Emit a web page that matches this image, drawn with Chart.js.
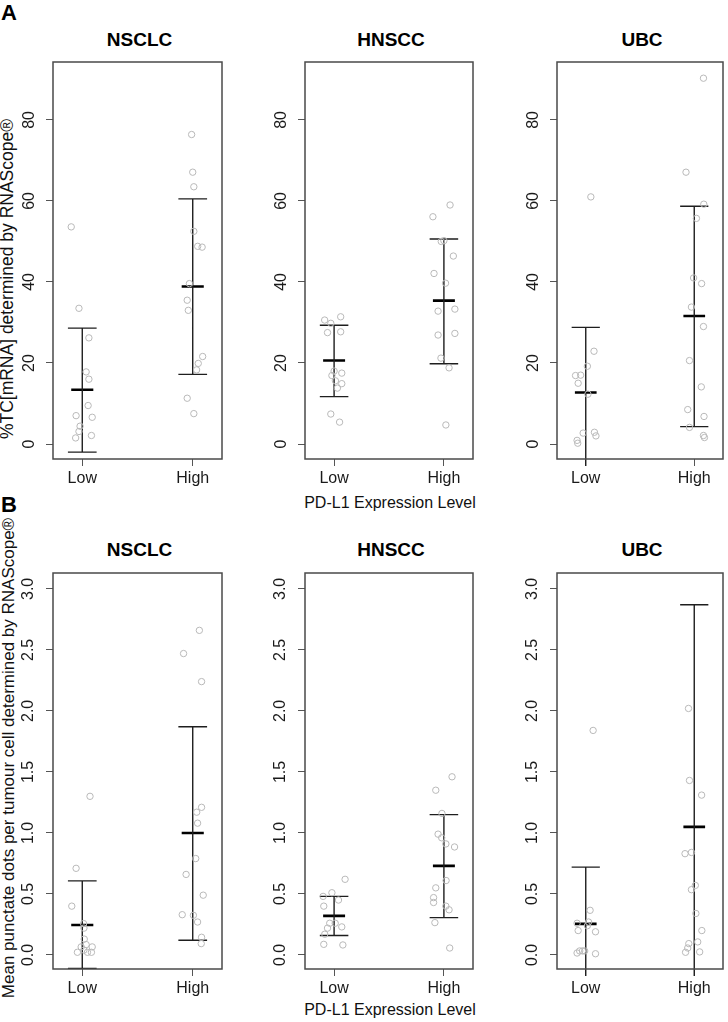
<!DOCTYPE html>
<html>
<head>
<meta charset="utf-8">
<script src="https://cdn.jsdelivr.net/npm/chart.js@4.4.1/dist/chart.umd.min.js"></script>
<style>
  body { margin: 0; background: #fff; width: 728px; height: 1022px; overflow: hidden; position: relative;
         font-family: "Liberation Sans", Arial, sans-serif; color: #111; }
  .panel { position: absolute; }
  .txt { position: absolute; white-space: nowrap; line-height: 1; transform: translate(-50%, -50%); }
  .rot { transform: translate(-50%, -50%) rotate(-90deg); }
  .title { font-weight: bold; font-size: 19px; color: #000; }
  .tag { position: absolute; font-weight: bold; font-size: 22px; color: #000; line-height: 1; }
</style>
</head>
<body>

<div class="tag" style="left:1px; top:2px;">A</div>
<div class="tag" style="left:1px; top:494px;">B</div>

<div class="txt rot" style="left:8px; top:279px; font-size:17.5px;">%TC[mRNA] determined by RNAScope®</div>
<div class="txt rot" style="left:8px; top:758px; font-size:17px;">Mean punctate dots per tumour cell determined by RNAScope®</div>
<div class="txt" style="left:390px; top:503px; font-size:16px;">PD-L1 Expression Level</div>
<div class="txt" style="left:390px; top:1010px; font-size:16px;">PD-L1 Expression Level</div>

<script>
// groups and axis ticks
const groups = ["Low", "High"];
const cancerTypes = ["NSCLC", "HNSCC", "UBC"];
const tcTicks = [0, 20, 40, 60, 80];
const tcTickLabels = ["0", "20", "40", "60", "80"];
const dotTicks = [0, 0.5, 1, 1.5, 2, 2.5, 3];
const dotTickLabels = ["0.0", "0.5", "1.0", "1.5", "2.0", "2.5", "3.0"];

// A: %TC[mRNA] (values + horizontal jitter)
const nsclcTcLow = [53.6, 33.5, 26.2, 17.8, 16.0, 9.5, 7.0, 6.6, 4.4, 3.1, 1.5, 2.1];
const nsclcTcLowJit = [-0.10, -0.03, 0.06, 0.035, 0.06, 0.053, -0.056, 0.09, -0.02, -0.03, -0.06, 0.083];
const nsclcTcHigh = [76.4, 67.1, 63.5, 52.5, 48.8, 48.6, 39.6, 35.5, 33.0, 21.6, 19.9, 18.3, 11.3, 7.5];
const nsclcTcHighJit = [-0.01, 0, 0.01, 0.01, 0.045, 0.085, -0.03, -0.05, -0.04, 0.09, 0.05, 0.035, -0.05, 0.01];
const nsclcTcMean = [13.4, 38.9];
const nsclcTcLower = [-2.0, 17.2];
const nsclcTcUpper = [28.6, 60.5];

const hnsccTcLow = [30.6, 29.8, 31.4, 27.5, 27.7, 18.0, 17.5, 16.9, 15.6, 14.9, 13.8, 7.4, 5.4];
const hnsccTcLowJit = [-0.086, -0.03, 0.06, -0.06, 0.06, 0, 0.07, -0.02, 0.012, 0.07, 0.03, -0.03, 0.05];
const hnsccTcHigh = [59.0, 56.1, 50.0, 50.2, 46.4, 42.1, 39.7, 32.8, 33.3, 26.9, 27.3, 21.2, 18.8, 4.7];
const hnsccTcHighJit = [0.056, -0.1, -0.024, 0, 0.086, -0.09, 0.015, -0.053, 0.1, -0.053, 0.1, -0.027, 0.047, 0.018];
const hnsccTcMean = [20.6, 35.4];
const hnsccTcLower = [11.7, 19.8];
const hnsccTcUpper = [29.3, 50.6];

const ubcTcLow = [61.0, 22.9, 19.2, 16.9, 17.0, 15.0, 12.3, 2.7, 2.9, 2.0, 0.9, 0.2];
const ubcTcLowJit = [0.047, 0.076, 0.015, -0.094, -0.047, -0.07, 0.02, -0.024, 0.08, 0.094, -0.08, -0.074];
const ubcTcHigh = [90.3, 67.1, 59.2, 55.7, 41.0, 39.6, 33.8, 29.0, 20.6, 14.1, 8.5, 4.1, 6.8, 2.1, 1.6];
const ubcTcHighJit = [0.085, -0.076, 0.088, 0.02, -0.006, 0.068, -0.026, 0.085, -0.044, 0.065, -0.06, -0.044, 0.09, 0.085, 0.094];
const ubcTcMean = [12.7, 31.6];
const ubcTcLower = [-6.0, 4.3];
const ubcTcUpper = [28.8, 58.7];

// B: mean punctate dots per tumour cell
const nsclcDotLow = [1.30, 0.71, 0.40, 0.257, 0.22, 0.13, 0.085, 0.066, 0.066, 0.022, 0.022, 0.022, 0.04];
const nsclcDotLowJit = [0.07, -0.056, -0.095, 0.012, 0.015, 0.018, 0.035, 0.09, -0.01, -0.044, 0.047, 0.083, 0.015];
const nsclcDotHigh = [2.66, 2.47, 2.24, 1.21, 1.17, 1.08, 0.79, 0.66, 0.49, 0.33, 0.325, 0.27, 0.145, 0.093];
const nsclcDotHighJit = [0.06, -0.083, 0.08, 0.08, 0.036, 0.044, 0.027, -0.06, 0.095, -0.095, 0.006, 0.044, 0.08, 0.077];
const nsclcDotMean = [0.246, 1.0];
const nsclcDotLower = [-0.11, 0.12];
const nsclcDotUpper = [0.607, 1.87];

const hnsccDotLow = [0.62, 0.51, 0.48, 0.45, 0.40, 0.26, 0.26, 0.23, 0.22, 0.17, 0.087, 0.082];
const hnsccDotLowJit = [0.1, -0.02, -0.1, 0.04, -0.094, -0.04, 0.01, 0.07, -0.06, -0.085, -0.094, 0.08];
const hnsccDotHigh = [1.46, 1.35, 1.16, 0.99, 0.96, 0.91, 0.885, 0.61, 0.55, 0.47, 0.43, 0.40, 0.37, 0.265, 0.057];
const hnsccDotHighJit = [0.074, -0.074, -0.018, -0.053, -0.02, 0.018, 0.097, 0.02, -0.074, -0.094, -0.094, 0.018, 0.047, -0.082, 0.053];
const hnsccDotMean = [0.32, 0.73];
const hnsccDotLower = [0.16, 0.306];
const hnsccDotUpper = [0.48, 1.15];

const ubcDotLow = [1.84, 0.366, 0.26, 0.27, 0.24, 0.20, 0.19, 0.033, 0.033, 0.033, 0.016, 0.01];
const ubcDotLowJit = [0.068, 0.04, -0.08, 0.026, 0.015, -0.07, 0.09, -0.056, -0.03, -0.01, -0.08, 0.09];
const ubcDotHigh = [2.02, 1.43, 1.31, 0.83, 0.84, 0.57, 0.535, 0.34, 0.20, 0.093, 0.107, 0.057, 0.022, 0.025];
const ubcDotHighJit = [-0.053, -0.044, 0.068, -0.085, -0.026, 0.01, -0.026, 0.015, 0.07, -0.05, 0.032, -0.06, -0.08, 0.05];
const ubcDotMean = [0.255, 1.05];
const ubcDotLower = [-0.3, -0.8];
const ubcDotUpper = [0.72, 2.87];

// layout (px)
const boxLefts = [53, 305, 557];
const boxRights = [226, 477, 727];
const AXIS_W = 53;
const X_AXIS_H = 35;
const PAD_TOP = 10;
const CAP_HALF = 0.13;
const MEAN_HALF = 0.1;
const FONT = "'Liberation Sans', Arial, sans-serif";

const rows = [
  {
    top: 62, bottom: 459, yMin: -3.7, yMax: 94.3, ticks: tcTicks, tickLabels: tcTickLabels, tickPad: 8, titleY: 38.5,
    sets: [
      [nsclcTcLow, nsclcTcLowJit, nsclcTcHigh, nsclcTcHighJit, nsclcTcMean, nsclcTcLower, nsclcTcUpper],
      [hnsccTcLow, hnsccTcLowJit, hnsccTcHigh, hnsccTcHighJit, hnsccTcMean, hnsccTcLower, hnsccTcUpper],
      [ubcTcLow, ubcTcLowJit, ubcTcHigh, ubcTcHighJit, ubcTcMean, ubcTcLower, ubcTcUpper],
    ],
  },
  {
    top: 573, bottom: 969, yMin: -0.115, yMax: 3.13, ticks: dotTicks, tickLabels: dotTickLabels, tickPad: 6, titleY: 548.5,
    sets: [
      [nsclcDotLow, nsclcDotLowJit, nsclcDotHigh, nsclcDotHighJit, nsclcDotMean, nsclcDotLower, nsclcDotUpper],
      [hnsccDotLow, hnsccDotLowJit, hnsccDotHigh, hnsccDotHighJit, hnsccDotMean, hnsccDotLower, hnsccDotUpper],
      [ubcDotLow, ubcDotLowJit, ubcDotHigh, ubcDotHighJit, ubcDotMean, ubcDotLower, ubcDotUpper],
    ],
  },
];

const boxPlugin = {
  id: "box",
  afterDatasetsDraw(chart) {
    const a = chart.chartArea;
    const ctx = chart.ctx;
    ctx.save();
    ctx.strokeStyle = "#4a4a4a";
    ctx.lineWidth = 1.5;
    ctx.strokeRect(a.left, a.top, a.right - a.left, a.bottom - a.top);
    ctx.restore();
  },
};

function stripPoints(low, lowJit, high, highJit) {
  const pts = low.map((v, i) => ({ x: 1 + lowJit[i], y: v }));
  return pts.concat(high.map((v, i) => ({ x: 2 + highJit[i], y: v })));
}

function errorBars(lower, upper) {
  const pts = [];
  groups.forEach((g, i) => {
    const x = i + 1;
    pts.push({ x: x - CAP_HALF, y: upper[i] }, { x: x + CAP_HALF, y: upper[i] }, { x: x, y: null });
    pts.push({ x: x, y: upper[i] }, { x: x, y: lower[i] }, { x: x, y: null });
    pts.push({ x: x - CAP_HALF, y: lower[i] }, { x: x + CAP_HALF, y: lower[i] }, { x: x, y: null });
  });
  return pts;
}

function meanBars(mean) {
  const pts = [];
  groups.forEach((g, i) => {
    const x = i + 1;
    pts.push({ x: x - MEAN_HALF, y: mean[i] }, { x: x + MEAN_HALF, y: mean[i] }, { x: x, y: null });
  });
  return pts;
}

rows.forEach((row) => {
  row.sets.forEach((set, c) => {
    const [low, lowJit, high, highJit, mean, lower, upper] = set;
    const boxL = boxLefts[c], boxR = boxRights[c];
    const w = boxR - boxL + AXIS_W + 1;
    const h = row.bottom - row.top + PAD_TOP + X_AXIS_H;

    const title = document.createElement("div");
    title.className = "txt title";
    title.style.left = (boxL + boxR) / 2 + "px";
    title.style.top = row.titleY + "px";
    title.textContent = cancerTypes[c];
    document.body.appendChild(title);

    const wrap = document.createElement("div");
    wrap.className = "panel";
    wrap.style.left = boxL - AXIS_W + "px";
    wrap.style.top = row.top - PAD_TOP + "px";
    const canvas = document.createElement("canvas");
    canvas.width = w;
    canvas.height = h;
    canvas.style.width = w + "px";
    canvas.style.height = h + "px";
    wrap.appendChild(canvas);
    document.body.appendChild(wrap);

    new Chart(canvas, {
      type: "scatter",
      data: {
        datasets: [
          {
            data: stripPoints(low, lowJit, high, highJit),
            pointRadius: 3.2,
            pointBorderWidth: 1,
            pointBorderColor: "#b9b9b9",
            pointBackgroundColor: "rgba(0,0,0,0)",
          },
          {
            data: errorBars(lower, upper),
            showLine: true,
            spanGaps: false,
            pointRadius: 0,
            borderColor: "#1e1e1e",
            borderWidth: 1.4,
            clip: { left: 10, right: 10, top: 10, bottom: 7 },
          },
          {
            data: meanBars(mean),
            showLine: true,
            spanGaps: false,
            pointRadius: 0,
            borderColor: "#000",
            borderWidth: 2.6,
          },
        ],
      },
      options: {
        responsive: false,
        animation: false,
        devicePixelRatio: 1,
        layout: { padding: { top: PAD_TOP, right: 1, left: 0, bottom: 0 } },
        plugins: { legend: { display: false }, tooltip: { enabled: false } },
        scales: {
          x: {
            type: "linear",
            min: 0.735,
            max: 2.265,
            afterBuildTicks: (s) => { s.ticks = groups.map((g, i) => ({ value: i + 1 })); },
            afterFit: (s) => { s.height = X_AXIS_H; s.paddingLeft = 0; s.paddingRight = 0; },
            ticks: {
              padding: 3,
              color: "#1a1a1a",
              font: { size: 16, family: FONT },
              callback: (v, i) => groups[i],
            },
            grid: { drawOnChartArea: false, drawTicks: true, tickLength: 7, color: "#555", lineWidth: 1 },
            border: { display: false },
          },
          y: {
            type: "linear",
            min: row.yMin,
            max: row.yMax,
            afterBuildTicks: (s) => { s.ticks = row.ticks.map((v) => ({ value: v })); },
            afterFit: (s) => { s.width = AXIS_W; s.paddingTop = 0; s.paddingBottom = 0; },
            ticks: {
              minRotation: 90,
              maxRotation: 90,
              crossAlign: "center",
              padding: row.tickPad,
              color: "#1a1a1a",
              font: { size: 16, family: FONT },
              callback: (v, i) => row.tickLabels[i],
            },
            grid: { drawOnChartArea: false, drawTicks: true, tickLength: 7, color: "#555", lineWidth: 1 },
            border: { display: false },
          },
        },
      },
      plugins: [boxPlugin],
    });
  });
});
</script>
</body>
</html>
